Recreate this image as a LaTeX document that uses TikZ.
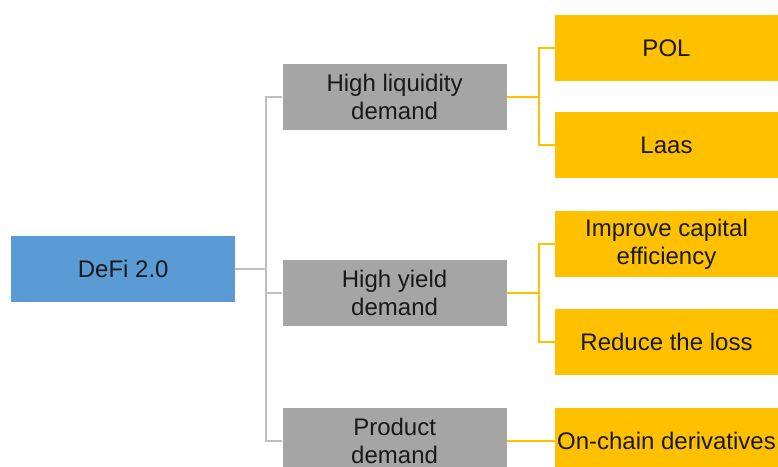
\documentclass[tikz,border=0pt]{standalone}
\usepackage{fontspec}
\setmainfont{Liberation Sans}
\usetikzlibrary{positioning, calc}
\definecolor{azulroot}{RGB}{91,155,213}
\definecolor{grisbox}{RGB}{165,165,165}
\definecolor{grisline}{RGB}{191,191,191}
\definecolor{amarillo}{RGB}{255,192,0}

\begin{document}
\begin{tikzpicture}[x=1pt, y=1pt, node distance=32pt,
  every node/.style={font=\fontsize{24}{28}\selectfont, text=black!90, align=center, inner sep=0pt},
  rootbox/.style={fill=azulroot, minimum width=224pt, minimum height=66pt},
  needbox/.style={fill=grisbox, minimum width=224pt, minimum height=66pt},
  leafbox/.style={fill=amarillo, minimum width=223pt, minimum height=66pt},
  trunk/.style={draw=grisline, line width=2pt},
  twig/.style={draw=amarillo, line width=2pt}]
  \useasboundingbox (0,0) rectangle (778,-466);
  % right column
  \node[leafbox] (pol) at (666.5,-48) {POL};
  \node[leafbox, below=31pt of pol] (laas) {Laas};
  \node[leafbox, below=of laas] (capital) {Improve capital\\efficiency};
  \node[leafbox, below=of capital] (loss) {Reduce the loss};
  \node[leafbox, below=of loss] (deriv) {On-chain derivatives};
  % middle column
  \node[needbox, left=48pt of {$(pol.west)!0.5!(laas.west)$}] (liquidity) {High liquidity\\demand};
  \node[needbox, left=48pt of {$(capital.west)!0.5!(loss.west)$}] (yield) {High yield\\demand};
  \node[needbox, left=48pt of deriv] (product) {Product\\demand};
  % root
  \node[rootbox, left=47pt of {$(liquidity.west)!0.5!(product.west)$}] (defi) {DeFi 2.0};

  \draw[trunk] (defi.east) -- ++(31pt,0) coordinate (split);
  \foreach \n in {liquidity, yield, product}
    \draw[trunk] (split) |- (\n.west);
  \draw[twig] (liquidity.east) -- ++(32pt,0) coordinate (fork1);
  \draw[twig] (fork1) |- (pol.west);
  \draw[twig] (fork1) |- (laas.west);
  \draw[twig] (yield.east) -- ++(32pt,0) coordinate (fork2);
  \draw[twig] (fork2) |- (capital.west);
  \draw[twig] (fork2) |- (loss.west);
  \draw[twig] (product.east) -- (deriv.west);
\end{tikzpicture}
\end{document}
